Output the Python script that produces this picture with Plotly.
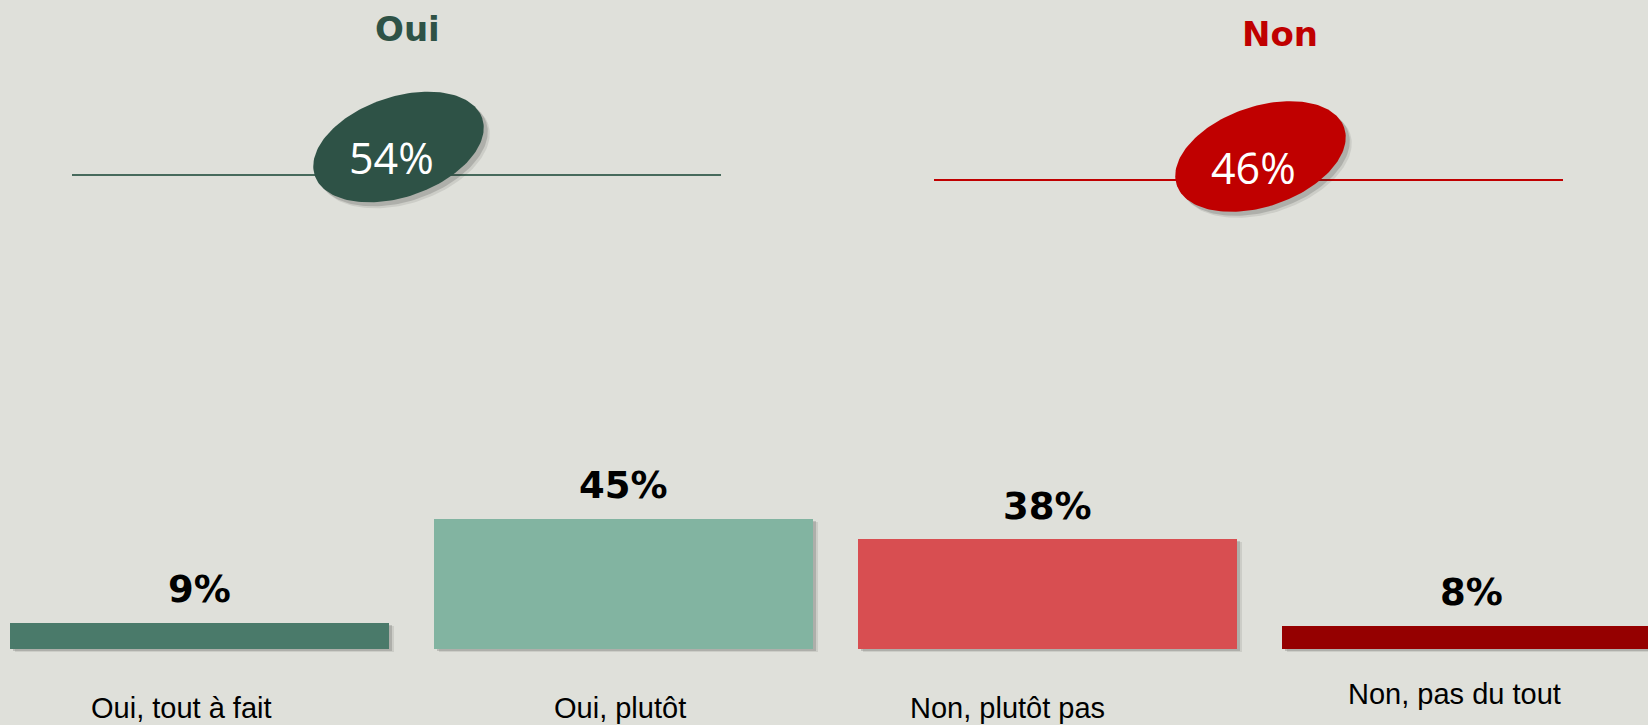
import numpy as np
import plotly.graph_objects as go

# ---------------- data ----------------
categories = ["Oui, tout à fait", "Oui, plutôt", "Non, plutôt pas", "Non, pas du tout"]
values = [9, 45, 38, 8]
groups = ["Oui", "Non"]
group_members = [[0, 1], [2, 3]]

# ---------------- style / layout ----------------
W, H = 1648, 725
BG = "#DFE0DA"
bar_colors = ["#4A7A6A", "#82B4A1", "#D84E51", "#950000"]
group_colors = ["#2E5246", "#C00000"]
line_colors = ["#476A5C", "#C00000"]

PX_PER_CAT = 424.0
FIRST_CENTER = 199.5
BASE_Y = 649.0
PX_PER_PCT = 2.89
BAR_W = 379.0 / PX_PER_CAT

x_lo = -FIRST_CENTER / PX_PER_CAT
x_hi = x_lo + W / PX_PER_CAT
y_top = BASE_Y / PX_PER_PCT
y_bot = -(H - BASE_Y) / PX_PER_PCT

# per-label pixel shifts for the category captions
cat_xshift = [-18, -4, -40, -17]
cat_yshift = [-59, -59, -59, -45]

# header decorations (pixel coordinates on overlay axes)
title_pos = [(407.5, 29), (1279.5, 34)]
ellipse_center = [(398.5, 147), (1260.5, 156.5)]
ellipse_text_pos = [(391.5, 157.5), (1253, 167.5)]
line_span = [(72, 721, 175), (934, 1563, 180)]
ELL_A, ELL_B, ELL_ROT = 88.5, 50.0, np.deg2rad(19)

fig = go.Figure()

# bar shadows
for dx, dy, alpha in [(5, 3, 0.10), (3, 2, 0.18)]:
    fig.add_trace(go.Bar(
        x=categories, y=values, base=-dy / PX_PER_PCT,
        width=BAR_W, offset=-BAR_W / 2 + dx / PX_PER_CAT,
        marker=dict(color=f"rgba(40,40,40,{alpha})", line=dict(width=0)),
        hoverinfo="skip", showlegend=False,
    ))

# main bars
fig.add_trace(go.Bar(
    x=categories, y=values, width=BAR_W,
    marker=dict(color=bar_colors, line=dict(width=0)),
    hoverinfo="skip", showlegend=False,
))


def ellipse(cx, cy, a, b, rot, n=160):
    t = np.linspace(0, 2 * np.pi, n)
    xs = cx + a * np.cos(t) * np.cos(rot) + b * np.sin(t) * np.sin(rot)
    ys = cy - a * np.cos(t) * np.sin(rot) + b * np.sin(t) * np.cos(rot)
    return xs, ys


for gi, g in enumerate(groups):
    lx0, lx1, ly = line_span[gi]
    fig.add_trace(go.Scatter(
        x=[lx0, lx1], y=[ly, ly], mode="lines",
        line=dict(color=line_colors[gi], width=2),
        xaxis="x2", yaxis="y2", hoverinfo="skip", showlegend=False,
    ))
    cx, cy = ellipse_center[gi]
    for dx, dy, alpha in [(6, 6, 0.10), (4, 4, 0.18)]:
        xs, ys = ellipse(cx + dx, cy + dy, ELL_A, ELL_B, ELL_ROT)
        fig.add_trace(go.Scatter(
            x=xs, y=ys, mode="lines", fill="toself",
            fillcolor=f"rgba(40,40,40,{alpha})", line=dict(width=0),
            xaxis="x2", yaxis="y2", hoverinfo="skip", showlegend=False,
        ))
    xs, ys = ellipse(cx, cy, ELL_A, ELL_B, ELL_ROT)
    fig.add_trace(go.Scatter(
        x=xs, y=ys, mode="lines", fill="toself",
        fillcolor=group_colors[gi], line=dict(width=0, color=group_colors[gi]),
        xaxis="x2", yaxis="y2", hoverinfo="skip", showlegend=False,
    ))

annotations = []
# value labels above bars and category captions below
for i, (c, v) in enumerate(zip(categories, values)):
    annotations.append(dict(
        x=c, y=v, xref="x", yref="y", text=f"{v}%", showarrow=False,
        yanchor="middle", yshift=33,
        font=dict(family="DejaVu Sans", size=37, color="#000000", weight="bold"),
    ))
    annotations.append(dict(
        x=c, y=0, xref="x", yref="y", text=c, showarrow=False,
        yanchor="middle", xshift=cat_xshift[i], yshift=cat_yshift[i],
        font=dict(family="Liberation Sans, Arial", size=29, color="#000000"),
    ))

# group titles and totals
for gi, g in enumerate(groups):
    total = sum(values[k] for k in group_members[gi])
    tx, ty = title_pos[gi]
    annotations.append(dict(
        x=tx, y=ty, xref="x2", yref="y2", text=g, showarrow=False,
        yanchor="middle",
        font=dict(family="DejaVu Sans", size=34, color=group_colors[gi], weight="bold"),
    ))
    ex, ey = ellipse_text_pos[gi]
    annotations.append(dict(
        x=ex, y=ey, xref="x2", yref="y2", text=f"{total}%", showarrow=False,
        yanchor="middle",
        font=dict(family="Open Sans", size=43, color="#FFFFFF"),
    ))

fig.update_layout(
    width=W, height=H,
    margin=dict(l=0, r=0, t=0, b=0),
    paper_bgcolor=BG, plot_bgcolor=BG,
    barmode="overlay", bargap=0,
    showlegend=False, hovermode=False,
    xaxis=dict(range=[x_lo, x_hi], visible=False, type="category", fixedrange=True),
    yaxis=dict(range=[y_bot, y_top], visible=False, fixedrange=True),
    xaxis2=dict(range=[0, W], visible=False, overlaying="x", fixedrange=True),
    yaxis2=dict(range=[H, 0], visible=False, overlaying="y", fixedrange=True),
    annotations=annotations,
)

fig.write_html(
    "out.html",
    config={"displayModeBar": False},
    post_script="document.body.style.margin='0';document.body.style.overflow='hidden';",
)
